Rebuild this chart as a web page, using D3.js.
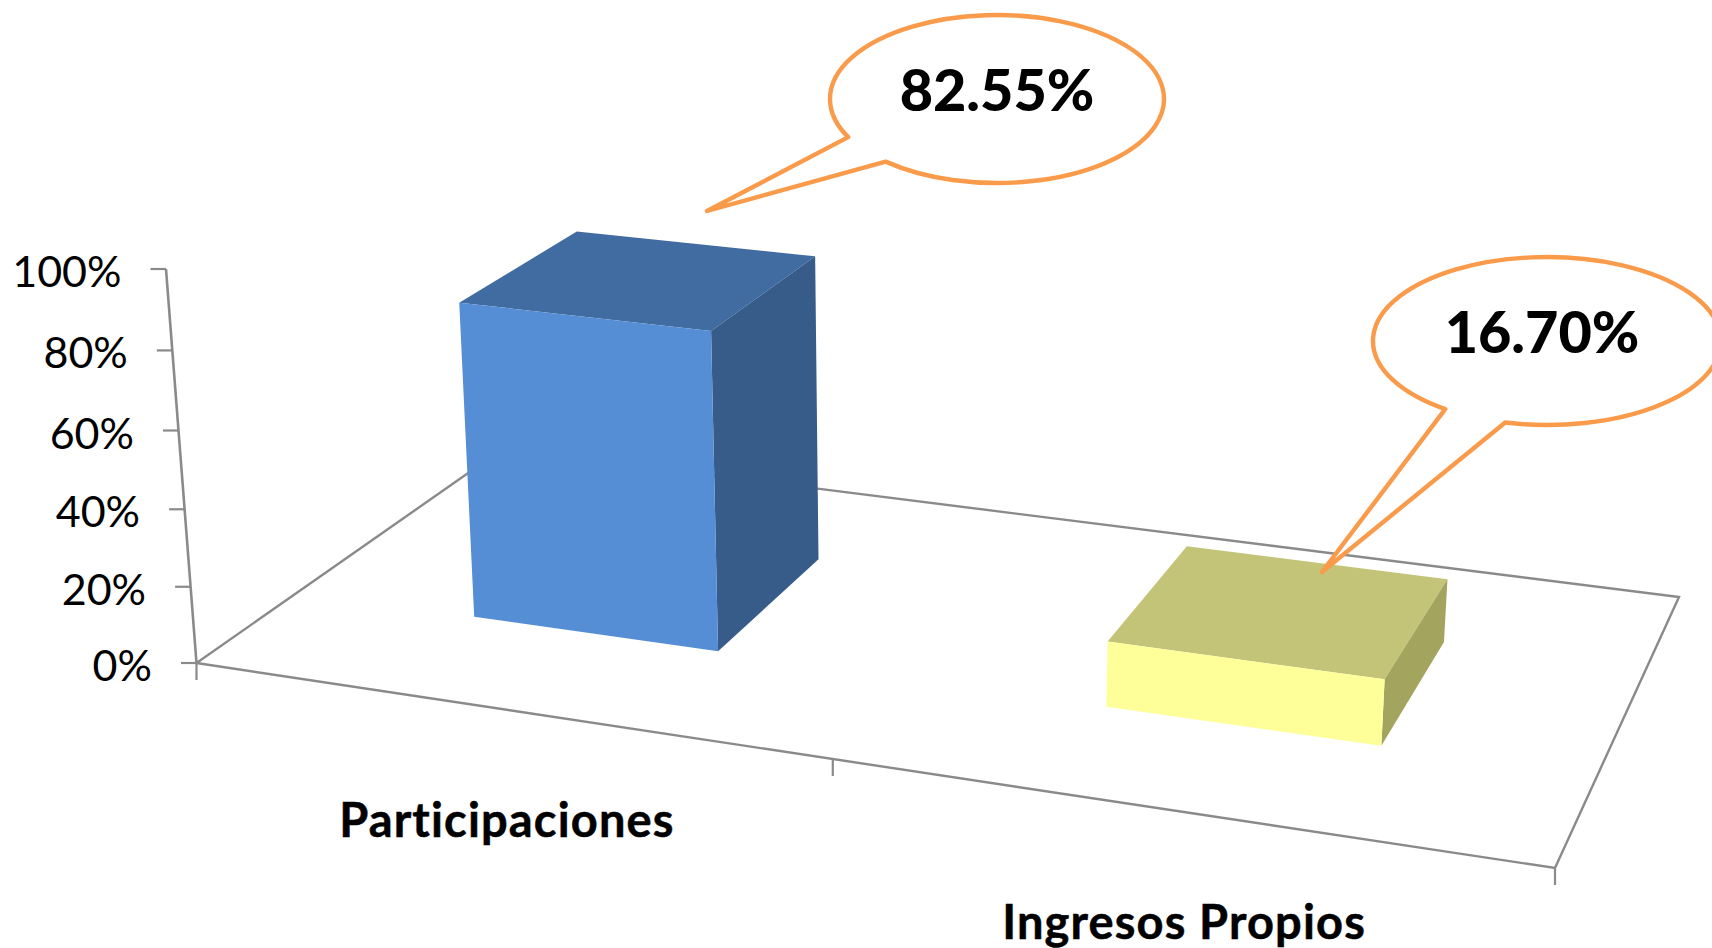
<!DOCTYPE html>
<html><head><meta charset="utf-8">
<script src="https://cdn.jsdelivr.net/npm/d3@7/dist/d3.min.js"></script>
<style>html,body{margin:0;padding:0;background:#fff;overflow:hidden}svg{display:block}text{font-family:Lato,"Open Sans",sans-serif;fill:#000;font-variant-ligatures:none}</style>
</head><body><svg id="c" width="1712" height="948"></svg>
<script>
// Data
const categories = ["Participaciones", "Ingresos Propios"];
const values = [82.55, 16.70];
const valueLabels = ["82.55%", "16.70%"];
const yTicks = [0, 20, 40, 60, 80, 100];
const yTickLabels = ["0%", "20%", "40%", "60%", "80%", "100%"];
const frontColors = ["#558ED5", "#FFFF99"];
const topColors = ["#416CA1", "#C3C477"];
const sideColors = ["#375C8A", "#A3A55F"];

// Perspective frame: floor corners and vanishing point of the vertical direction
const floorA = [196.5, 663], floorB = [1555, 868], floorC = [1679, 597], floorD = [502.5, 449];
const vanish = [924, 10060], kW = -0.04024;
const dx1 = floorB[0]-floorC[0], dx2 = floorD[0]-floorC[0], sx = floorA[0]-floorB[0]+floorC[0]-floorD[0];
const dy1 = floorB[1]-floorC[1], dy2 = floorD[1]-floorC[1], sy = floorA[1]-floorB[1]+floorC[1]-floorD[1];
const det = dx1*dy2-dx2*dy1;
const hg = (sx*dy2-dx2*sy)/det, hh = (dx1*sy-sx*dy1)/det;
const ha = floorB[0]-floorA[0]+hg*floorB[0], hb = floorD[0]-floorA[0]+hh*floorD[0];
const hd = floorB[1]-floorA[1]+hg*floorB[1], he = floorD[1]-floorA[1]+hh*floorD[1];
function project(u, v, w) {
  const den = hg*u + hh*v + 1 + w*kW;
  return [(ha*u + hb*v + floorA[0] + w*kW*vanish[0]) / den,
          (hd*u + he*v + floorA[1] + w*kW*vanish[1]) / den];
}

const xBand = d3.scaleBand().domain(categories).range([0, 1]).paddingInner(0.6).paddingOuter(0.3);
const wScale = d3.scaleLinear().domain([0, 100]).range([0, 1]);
const depth = [0.3, 0.7];

const svg = d3.select("#c");
const line = d3.line();
const grey = "#8A8A8A";

// floor frame
svg.append("path").attr("d", line([floorA, floorB, floorC, floorD]) + "Z")
  .attr("fill", "none").attr("stroke", grey).attr("stroke-width", 2.4);

// y axis
const yG = svg.append("g");
yG.append("path").attr("d", line(yTicks.map(t => project(0, 0, wScale(t)))))
  .attr("fill", "none").attr("stroke", grey).attr("stroke-width", 2.6);
yTicks.forEach((t, i) => {
  const p = project(0, 0, wScale(t));
  yG.append("line").attr("x1", p[0]-15.5).attr("x2", p[0]).attr("y1", p[1]).attr("y2", p[1])
    .attr("stroke", grey).attr("stroke-width", 2.2);
  yG.append("text").attr("x", p[0]-44.5).attr("y", p[1]+18).attr("text-anchor", "end")
    .attr("font-size", 43).text(yTickLabels[i]);
});

// x ticks
d3.range(0, 1.01, 0.5).forEach(u => {
  const p = project(u, 0, 0);
  svg.append("line").attr("x1", p[0]).attr("x2", p[0]).attr("y1", p[1]).attr("y2", p[1]+17)
    .attr("stroke", grey).attr("stroke-width", 2.2);
});

// x labels
categories.forEach(c => {
  const p = project(xBand(c)+xBand.bandwidth()/2, 0, 0);
  svg.append("text").attr("x", p[0]+2).attr("y", p[1]+127).attr("text-anchor", "middle")
    .attr("font-size", 47).attr("font-weight", 700).attr("letter-spacing", 1.15)
    .attr("stroke", "#000").attr("stroke-width", 0.5).text(c);
});

// bars
categories.forEach((c, i) => {
  const u0 = xBand(c), u1 = u0+xBand.bandwidth(), w = wScale(values[i]);
  const [v0, v1] = depth;
  const poly = (pts, fill) => svg.append("path").attr("d", line(pts.map(a => project(...a))) + "Z").attr("fill", fill);
  poly([[u0,v0,w],[u1,v0,w],[u1,v1,w],[u0,v1,w]], topColors[i]);
  poly([[u1,v0,0],[u1,v1,0],[u1,v1,w],[u1,v0,w]], sideColors[i]);
  poly([[u0,v0,0],[u1,v0,0],[u1,v0,w],[u0,v0,w]], frontColors[i]);
});

// callouts
const calloutCentre = [[997, 99], [1547, 341]];
const calloutTip = [[707, 211], [1322, 572]];
const calloutRadii = [[167, 84], [174, 84]];
const calloutAngles = [[153, 131.8], [125.8, 103.9]];
const labelOffset = [[0, 12], [-5, 12]];
categories.forEach((c, i) => {
  const [cx, cy] = calloutCentre[i];
  const [rx, ry] = calloutRadii[i];
  const pt = d => [cx+rx*Math.cos(d*Math.PI/180), cy+ry*Math.sin(d*Math.PI/180)];
  const p1 = pt(calloutAngles[i][0]), p2 = pt(calloutAngles[i][1]);
  const tip = calloutTip[i];
  svg.append("path")
    .attr("d", `M${p1}A${rx} ${ry} 0 1 1 ${p2}L${tip}Z`)
    .attr("fill", "#fff").attr("stroke", "#F99B4A").attr("stroke-width", 4.4).attr("stroke-linejoin", "round");
  svg.append("text").attr("x", cx+labelOffset[i][0]).attr("y", cy+labelOffset[i][1])
    .attr("text-anchor", "middle").attr("font-size", 57.5).attr("font-weight", 900).text(valueLabels[i]);
});
</script></body></html>
